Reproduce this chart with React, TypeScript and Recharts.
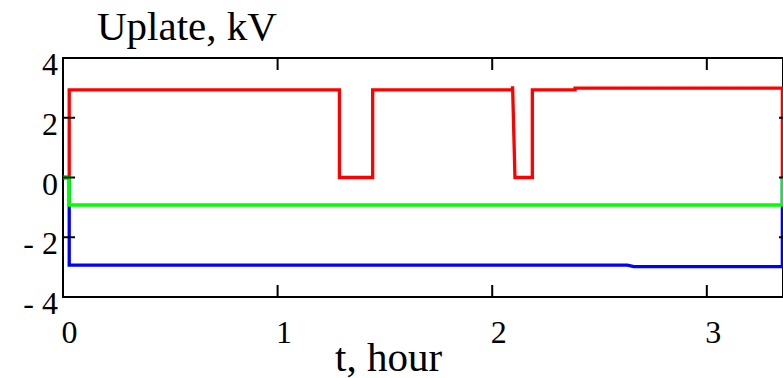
import { LineChart, Line, XAxis, YAxis, ReferenceArea } from 'recharts'

const X_MAX = 3.355
const X_TICKS = [0, 1, 2, 3]
const Y_TICKS = [-4, -2, 0, 2, 4]

const redTime = [0, 0.029, 0.029, 1.288, 1.288, 1.443, 1.443, 2.093, 2.095, 2.106, 2.187, 2.187, 2.386, 2.386, 3.352, 3.352]
const redVolts = [0, 0, 2.93, 2.93, 0, 0, 2.93, 2.93, 3.05, 0, 0, 2.93, 2.93, 2.99, 2.99, 0]

const greenTime = [0, 0.029, 0.029, 3.352, 3.352]
const greenVolts = [0, 0, -0.92, -0.92, 0]

const blueTime = [0, 0.029, 0.029, 2.63, 2.66, 3.352, 3.352]
const blueVolts = [0, 0, -2.93, -2.93, -2.98, -2.98, 0]

const toPoints = (t: number[], v: number[]) => t.map((time, i) => ({ t: time, v: v[i] }))

const FONT = '"Liberation Serif", "Times New Roman", serif'
const PLOT_W = 720
const PLOT_H = 239
const TICK = 12

type TickProps = { x?: number; y?: number; payload?: { value: number } }

function XTick({ x = 0, y = 0, payload }: TickProps) {
  if (!payload) return null
  return (
    <g>
      <line x1={x} x2={x} y1={y} y2={y - TICK} stroke="#000" strokeWidth={2} />
      <line x1={x} x2={x} y1={y - PLOT_H} y2={y - PLOT_H + TICK} stroke="#000" strokeWidth={2} />
      <text x={x + 6.5} y={y + 46} textAnchor="middle" fontFamily={FONT} fontSize={32} fill="#000">
        {payload.value}
      </text>
    </g>
  )
}

function YTick({ x = 0, y = 0, payload }: TickProps) {
  if (!payload) return null
  const v = payload.value
  const label = v < 0 ? `- ${-v}` : `${v}`
  return (
    <g>
      <line x1={x} x2={x + TICK} y1={y} y2={y} stroke="#000" strokeWidth={2} />
      <line x1={x + PLOT_W - 4} x2={x + PLOT_W} y1={y} y2={y} stroke="#000" strokeWidth={2} />
      <text x={x - 5} y={y + 17} textAnchor="end" fontFamily={FONT} fontSize={32} fill="#000">
        {label}
      </text>
    </g>
  )
}

export default function App() {
  return (
    <div style={{ position: 'absolute', left: 0, top: 0, background: '#fff' }}>
      <LineChart width={783} height={378} margin={{ top: 58, right: 0, bottom: 51, left: 3 }}>
        <XAxis
          type="number"
          dataKey="t"
          domain={[0, X_MAX]}
          ticks={X_TICKS}
          height={30}
          axisLine={false}
          tickLine={false}
          tickSize={0}
          tickMargin={0}
          tick={(props: TickProps) => <XTick {...props} />}
          interval={0}
          allowDataOverflow
          label={{
            content: () => (
              <text x={335} y={371} fontFamily={FONT} fontSize={41} fill="#000">
                t, hour
              </text>
            ),
          }}
        />
        <YAxis
          type="number"
          domain={[-4, 4]}
          ticks={Y_TICKS}
          width={60}
          axisLine={false}
          tickLine={false}
          tickSize={0}
          tickMargin={0}
          tick={(props: TickProps) => <YTick {...props} />}
          interval={0}
          allowDataOverflow
          label={{
            content: () => (
              <text x={97} y={40} fontFamily={FONT} fontSize={41} fill="#000">
                Uplate, kV
              </text>
            ),
          }}
        />
        <ReferenceArea x1={0} x2={X_MAX} y1={-4} y2={4} fill="none" stroke="#000" strokeWidth={2} />
        <Line
          data={toPoints(redTime, redVolts)}
          dataKey="v"
          type="linear"
          stroke="#ff0000"
          strokeWidth={3.3}
          dot={false}
          isAnimationActive={false}
        />
        <Line
          data={toPoints(blueTime, blueVolts)}
          dataKey="v"
          type="linear"
          stroke="#0000ff"
          strokeWidth={3.3}
          dot={false}
          isAnimationActive={false}
        />
        <Line
          data={toPoints(greenTime, greenVolts)}
          dataKey="v"
          type="linear"
          stroke="#00ff00"
          strokeWidth={3.3}
          dot={false}
          isAnimationActive={false}
        />
      </LineChart>
    </div>
  )
}
